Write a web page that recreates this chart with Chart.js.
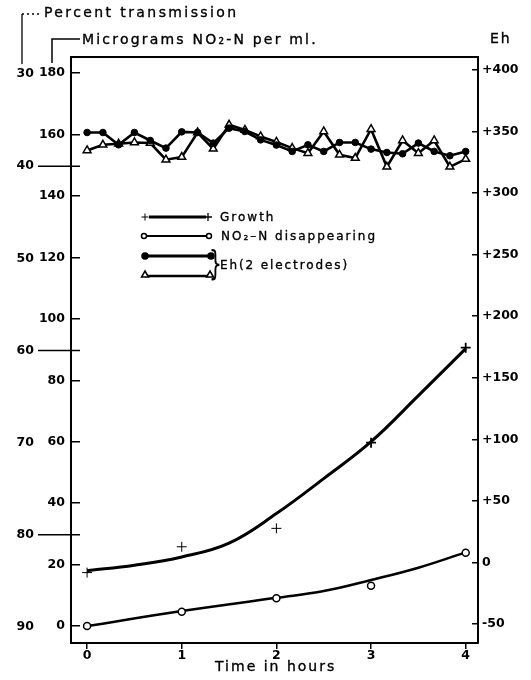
<!DOCTYPE html>
<html>
<head>
<meta charset="utf-8">
<script src="https://cdn.jsdelivr.net/npm/chart.js@4.4.0/dist/chart.umd.min.js"></script>
<style>
html, body { margin:0; padding:0; background:#fff; }
#wrap { position:relative; width:531px; height:680px; font-family:"DejaVu Sans", sans-serif; color:#000; }
#wrap canvas { position:absolute; left:0; top:0; }
.lbl { position:absolute; white-space:nowrap; line-height:1; -webkit-text-stroke:0.35px #000; }
</style>
</head>
<body>
<div id="wrap">
  <canvas id="chart" width="531" height="680"></canvas>
  <div class="lbl" style="left:44px;top:5px;font-size:14px;letter-spacing:2.4px">Percent transmission</div>
  <div class="lbl" style="left:82px;top:32px;font-size:14px;letter-spacing:2.2px">Micrograms NO₂-N per ml.</div>
  <div class="lbl" style="left:490px;top:31px;font-size:14px;letter-spacing:2px">Eh</div>
  <div class="lbl" style="left:215px;top:659px;font-size:14px;letter-spacing:2px">Time in hours</div>
  <div class="lbl" style="left:220px;top:211px;font-size:12px;letter-spacing:2px">Growth</div>
  <div class="lbl" style="left:221px;top:230px;font-size:12px;letter-spacing:2px">NO₂–N disappearing</div>
  <div class="lbl" style="left:209px;top:246px;font-size:34px;transform:scaleX(0.6);transform-origin:left top;-webkit-text-stroke:0">}</div>
  <div class="lbl" style="left:220px;top:259px;font-size:12px;letter-spacing:1.9px">Eh(2 electrodes)</div>
</div>
<script>
// time axis (hours)
const hours = [0, 1, 2, 3, 4];

// growth, read against the percent transmission scale
const growthPct = [84.1, 81.3, 79.3, 70.0, 59.7];
const growthFitHours = [0, 0.5, 1, 1.5, 2, 2.5, 3, 3.5, 4];
const growthFitPct = [83.9, 83.3, 82.4, 80.9, 77.7, 73.9, 69.9, 64.9, 59.8];

// NO2-N, micrograms per ml
const no2Ug = [0, 4.7, 9.1, 13.1, 23.9];
const no2FitHours = [0, 1, 2, 2.5, 3, 3.5, 4];
const no2FitUg = [0, 4.9, 9.2, 11.4, 15.0, 19.0, 24.0];

// Eh, two electrodes, every 10 min
const ehHours = [0, 0.167, 0.333, 0.5, 0.667, 0.833, 1, 1.167, 1.333, 1.5, 1.667, 1.833, 2,
  2.167, 2.333, 2.5, 2.667, 2.833, 3, 3.167, 3.333, 3.5, 3.667, 3.833, 4];
const ehDots = [349.2, 349.2, 339.2, 349.2, 342.7, 336.5, 349.7, 349.2, 340.6, 352.7, 350, 343.2, 339,
  333.8, 339.2, 333.8, 341.1, 341.1, 335.7, 333, 331.9, 340.6, 333.8, 330.3, 333.8];
const ehTriangles = [334.6, 339.2, 340, 341.1, 340.6, 327.1, 329.2, 349.2, 335.9, 355.4, 351.3, 346, 341.5,
  336.5, 332.4, 350, 331.1, 328.4, 351.9, 321.3, 342.7, 332.4, 342.7, 321.3, 327.6];

// percent transmission values that get a long reference line
const pctLines = [40, 60, 80];

const pts = (xs, ys) => xs.map((x, i) => ({x, y: ys[i]}));
const FONT = {family: '"DejaVu Sans", sans-serif', size: 12.5, weight: 'bold'};

// frame top, header brackets, long % lines, legend samples
const decor = {
  id: 'decor',
  afterDraw(chart) {
    const {ctx, chartArea: a, scales} = chart;
    ctx.save();
    ctx.strokeStyle = '#000';
    ctx.fillStyle = '#000';
    ctx.lineWidth = 2;
    ctx.beginPath(); ctx.moveTo(a.left - 1, a.top); ctx.lineTo(a.right + 1, a.top); ctx.stroke();

    // header brackets
    ctx.lineWidth = 1.3;
    ctx.setLineDash([2, 3]);
    ctx.beginPath(); ctx.moveTo(22, 14); ctx.lineTo(41, 14); ctx.stroke();
    ctx.setLineDash([]);
    ctx.beginPath(); ctx.moveTo(22, 14); ctx.lineTo(22, 64); ctx.stroke();
    ctx.lineWidth = 1.5;
    ctx.beginPath(); ctx.moveTo(52, 63); ctx.lineTo(52, 39); ctx.lineTo(80, 39); ctx.stroke();

    // long lines on percent transmission scale
    const pct = scales.pct;
    ctx.lineWidth = 1.5;
    pctLines.forEach(v => {
      const y = pct.getPixelForValue(v);
      ctx.beginPath(); ctx.moveTo(pct.right - 2, y); ctx.lineTo(a.left + 9, y); ctx.stroke();
    });

    // legend samples
    const cross = (x, y, r, w) => {
      ctx.lineWidth = w;
      ctx.beginPath(); ctx.moveTo(x - r, y); ctx.lineTo(x + r, y); ctx.moveTo(x, y - r); ctx.lineTo(x, y + r); ctx.stroke();
    };
    const circ = (x, y, r, fill) => {
      ctx.lineWidth = 1.5;
      ctx.beginPath(); ctx.arc(x, y, r, 0, Math.PI * 2);
      ctx.fillStyle = fill; ctx.fill(); ctx.stroke();
    };
    const tri = (x, y, r) => {
      ctx.lineWidth = 1.5;
      ctx.beginPath();
      ctx.moveTo(x, y - r); ctx.lineTo(x + r * 0.87, y + r * 0.5); ctx.lineTo(x - r * 0.87, y + r * 0.5); ctx.closePath();
      ctx.fillStyle = '#fff'; ctx.fill(); ctx.stroke();
    };
    const seg = (x1, x2, y, w) => {
      ctx.lineWidth = w;
      ctx.beginPath(); ctx.moveTo(x1, y); ctx.lineTo(x2, y); ctx.stroke();
    };
    seg(149, 206, 217, 3); cross(145, 217, 3.5, 1); cross(208, 217, 4, 1.3);
    seg(147, 206, 236, 2.2); circ(144, 236, 2.5, '#fff'); circ(209, 236, 2.5, '#fff');
    seg(145, 211, 256, 3); circ(145, 256, 3, '#000'); circ(211, 256, 3, '#000');
    seg(145, 210, 276, 2.5); tri(145, 275, 4); tri(210, 275, 4);
    ctx.restore();
  }
};

new Chart(document.getElementById('chart'), {
  type: 'line',
  data: {
    datasets: [
      { data: pts(hours, growthPct), yAxisID: 'pct', showLine: false,
        pointStyle: 'cross', pointRadius: 5, borderColor: '#000',
        pointBorderWidth: [1, 1, 1, 1.8, 1.8] },
      { data: pts(hours, no2Ug), yAxisID: 'ug', showLine: false,
        pointStyle: 'circle', pointRadius: 3.5, borderColor: '#000',
        pointBackgroundColor: '#fff', pointBorderWidth: 1.5 },
      { data: pts(ehHours, ehDots), yAxisID: 'eh', borderColor: '#000', borderWidth: 2.6,
        pointStyle: 'circle', pointRadius: 3.3, pointBackgroundColor: '#000', pointBorderWidth: 1 },
      { data: pts(ehHours, ehTriangles), yAxisID: 'eh', borderColor: '#000', borderWidth: 2.6,
        pointStyle: 'triangle', pointRadius: 4.5, pointBackgroundColor: '#fff', pointBorderWidth: 1.5 },
      { data: pts(growthFitHours, growthFitPct), yAxisID: 'pct', borderColor: '#000', borderWidth: 3,
        pointRadius: 0, tension: 0.4 },
      { data: pts(no2FitHours, no2FitUg), yAxisID: 'ug', borderColor: '#000', borderWidth: 2.5,
        pointRadius: 0, tension: 0.4 }
    ]
  },
  options: {
    responsive: false,
    animation: false,
    layout: { padding: { top: 57, left: 0, right: 0, bottom: 0 } },
    plugins: { legend: { display: false }, tooltip: { enabled: false } },
    scales: {
      x: {
        type: 'linear', position: 'bottom', min: -0.17, max: 4.13,
        afterFit: s => { s.height = 37; },
        border: { color: '#000', width: 2 },
        grid: { drawOnChartArea: false, color: '#000', lineWidth: 1.5, tickLength: 6 },
        ticks: { stepSize: 1, includeBounds: false, color: '#000', font: FONT,
          padding: -1, maxRotation: 0, autoSkip: false }
      },
      pct: {
        type: 'linear', position: 'left', weight: 1, reverse: true, min: 28.16, max: 91.74,
        afterFit: s => { s.width = 40; },
        border: { display: false },
        grid: { display: false, drawTicks: false },
        ticks: { stepSize: 10, includeBounds: false, color: '#000', font: FONT, padding: 6 }
      },
      ug: {
        type: 'linear', position: 'left', weight: 0, min: -5.5, max: 185.2,
        afterFit: s => { s.width = 31; },
        border: { color: '#000', width: 2 },
        grid: { drawOnChartArea: false, color: '#000', lineWidth: 1.5, tickLength: -9 },
        ticks: { stepSize: 20, includeBounds: false, color: '#000', font: FONT, padding: 15 }
      },
      eh: {
        type: 'linear', position: 'right', min: -65.4, max: 410.5,
        afterFit: s => { s.width = 53; },
        border: { color: '#000', width: 2 },
        grid: { drawOnChartArea: false, color: '#000', lineWidth: 1.5, tickLength: -6 },
        ticks: { stepSize: 50, includeBounds: false, color: '#000', font: FONT, padding: 10,
          callback: v => v > 0 ? '+' + v : String(v) }
      }
    }
  },
  plugins: [decor]
});
</script>
</body>
</html>
